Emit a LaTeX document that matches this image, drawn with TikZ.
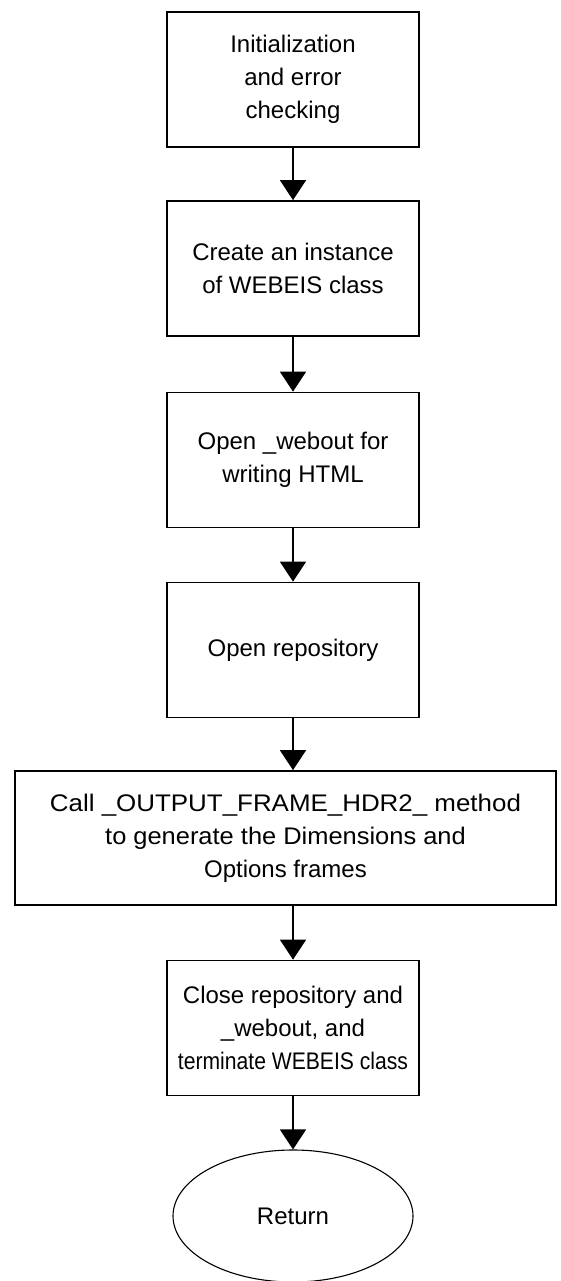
\documentclass[tikz,border=0pt]{standalone}
\usepackage{fontspec}
\setmainfont{Liberation Sans}
\usetikzlibrary{arrows.meta,shapes.geometric}
\begin{document}
\begin{tikzpicture}[x=1pt,y=1pt,
  procbox/.style={draw, line width=1.7pt, rectangle, minimum width=252pt,
    minimum height=135pt, align=center, inner sep=0pt,
    font=\fontsize{24}{33}\selectfont},
  endcap/.style={draw, line width=1.1pt, ellipse, minimum width=240pt,
    minimum height=132pt, inner sep=0pt, font=\fontsize{24}{33}\selectfont},
  flow/.style={line width=1.4pt, -{Triangle[width=26pt,length=20pt]}}]
\useasboundingbox (0,0) rectangle (560,-1281);
\fill[white] (0,0) rectangle (560,-1281);
\node[procbox] (init) at (293,-79.5) {Initialization\\and error\\checking};
\node[procbox] (inst) at (293,-268.5) {Create an instance\\of WEBEIS class};
\node[procbox] (web) at (293,-460) {Open \_webout for\\writing HTML};
\node[procbox] (repo) at (293,-650) {Open repository};
\node[procbox, minimum width=541pt, minimum height=134pt] (frame) at (285.5,-838)
  {\scalebox{1.08}[1]{Call \_OUTPUT\_FRAME\_HDR2\_ method}\\
   \scalebox{1.06}[1]{to generate the Dimensions and}\\Options frames};
\node[procbox] (close) at (293,-1028)
  {Close repository and\\\_webout, and\\\scalebox{0.88}[1]{terminate WEBEIS class}};
\node[endcap] (ret) at (293,-1216) {Return};
\draw[flow] (init.south) -- (inst.north);
\draw[flow] (inst.south) -- (web.north);
\draw[flow] (web.south) -- (repo.north);
\draw[flow] (repo.south) -- (frame.north -| repo.south);
\draw[flow] (frame.south -| close.north) -- (close.north);
\draw[flow] (close.south) -- (ret.north);
\end{tikzpicture}
\end{document}
